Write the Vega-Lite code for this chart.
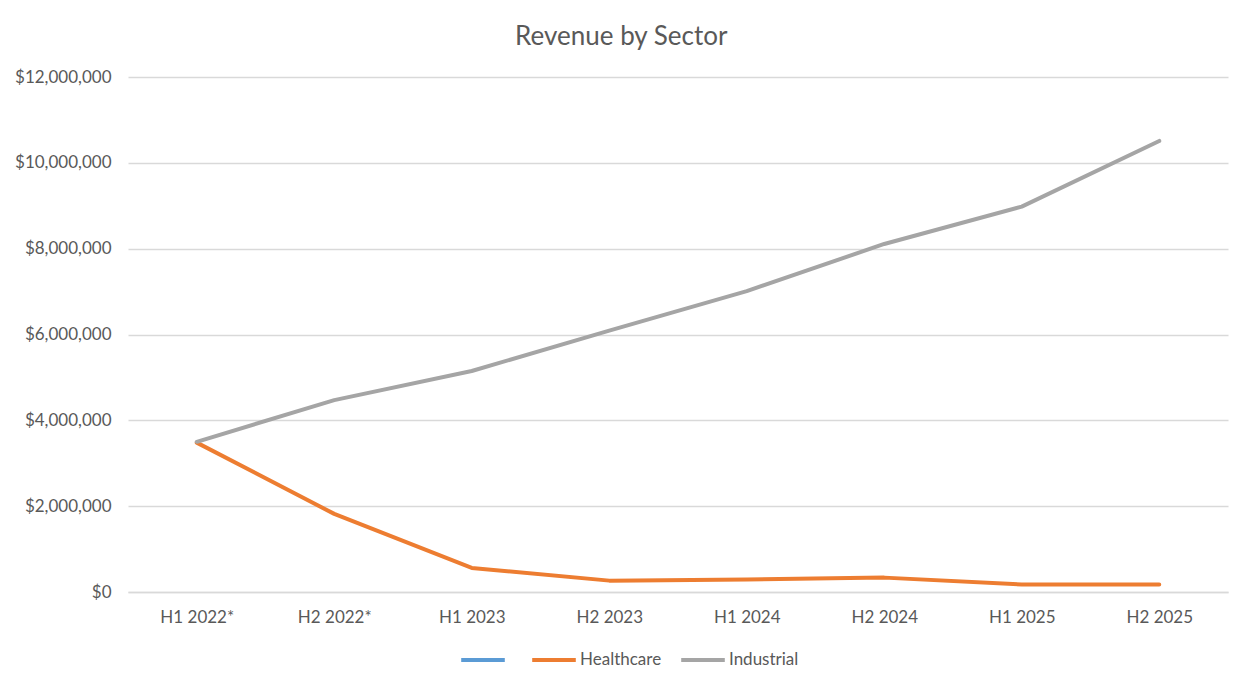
{
  "$schema": "https://vega.github.io/schema/vega-lite/v6.json",
  "autosize": {"type": "fit", "contains": "padding"},
  "width": 1250,
  "height": 690,
  "padding": {"left": 14, "right": 22, "top": 24, "bottom": 65},
  "background": "white",
  "title": {
    "text": "Revenue by Sector",
    "font": "Lato",
    "fontSize": 26,
    "fontWeight": "normal",
    "color": "#595959",
    "offset": 18,
    "frame": "bounds"
  },
  "data": {
    "values": [
      {"period": "H1 2022*", "sector": "Healthcare", "revenue": 3480000},
      {"period": "H2 2022*", "sector": "Healthcare", "revenue": 1820000},
      {"period": "H1 2023", "sector": "Healthcare", "revenue": 560000},
      {"period": "H2 2023", "sector": "Healthcare", "revenue": 265000},
      {"period": "H1 2024", "sector": "Healthcare", "revenue": 290000},
      {"period": "H2 2024", "sector": "Healthcare", "revenue": 335000},
      {"period": "H1 2025", "sector": "Healthcare", "revenue": 175000},
      {"period": "H2 2025", "sector": "Healthcare", "revenue": 175000},
      {"period": "H1 2022*", "sector": "Industrial", "revenue": 3500000},
      {"period": "H2 2022*", "sector": "Industrial", "revenue": 4470000},
      {"period": "H1 2023", "sector": "Industrial", "revenue": 5150000},
      {"period": "H2 2023", "sector": "Industrial", "revenue": 6090000},
      {"period": "H1 2024", "sector": "Industrial", "revenue": 7010000},
      {"period": "H2 2024", "sector": "Industrial", "revenue": 8110000},
      {"period": "H1 2025", "sector": "Industrial", "revenue": 8980000},
      {"period": "H2 2025", "sector": "Industrial", "revenue": 10510000}
    ]
  },
  "mark": {"type": "line", "strokeWidth": 4, "strokeCap": "round", "strokeJoin": "round"},
  "encoding": {
    "x": {
      "field": "period",
      "type": "ordinal",
      "sort": ["H1 2022*", "H2 2022*", "H1 2023", "H2 2023", "H1 2024", "H2 2024", "H1 2025", "H2 2025"],
      "scale": {"type": "point", "padding": 0.5},
      "axis": {
        "title": null,
        "labelAngle": 0,
        "labelFont": "Lato",
        "labelFontSize": 17,
        "labelColor": "#595959",
        "labelPadding": 17,
        "ticks": false,
        "domainColor": "#d9d9d9",
        "domainWidth": 1.5,
        "grid": false
      }
    },
    "y": {
      "field": "revenue",
      "type": "quantitative",
      "scale": {"domain": [0, 12000000], "nice": false},
      "axis": {
        "title": null,
        "values": [0, 2000000, 4000000, 6000000, 8000000, 10000000, 12000000],
        "format": "$,.0f",
        "labelFont": "Lato",
        "labelFontSize": 17,
        "labelColor": "#595959",
        "labelPadding": 17,
        "ticks": false,
        "domain": false,
        "gridColor": "#d9d9d9",
        "gridWidth": 1.5
      }
    },
    "color": {
      "field": "sector",
      "type": "nominal",
      "scale": {
        "domain": ["", "Healthcare", "Industrial"],
        "range": ["#5B9BD5", "#ED7D31", "#A5A5A5"]
      },
      "legend": {
        "title": null,
        "orient": "none",
        "legendX": 331,
        "legendY": 559,
        "direction": "horizontal",
        "symbolType": "stroke",
        "symbolStrokeWidth": 4,
        "symbolSize": 1900,
        "labelFont": "Lato",
        "labelFontSize": 17,
        "labelColor": "#595959",
        "columnPadding": 11,
        "labelOffset": 2
      }
    }
  },
  "config": {"view": {"stroke": null}}
}
